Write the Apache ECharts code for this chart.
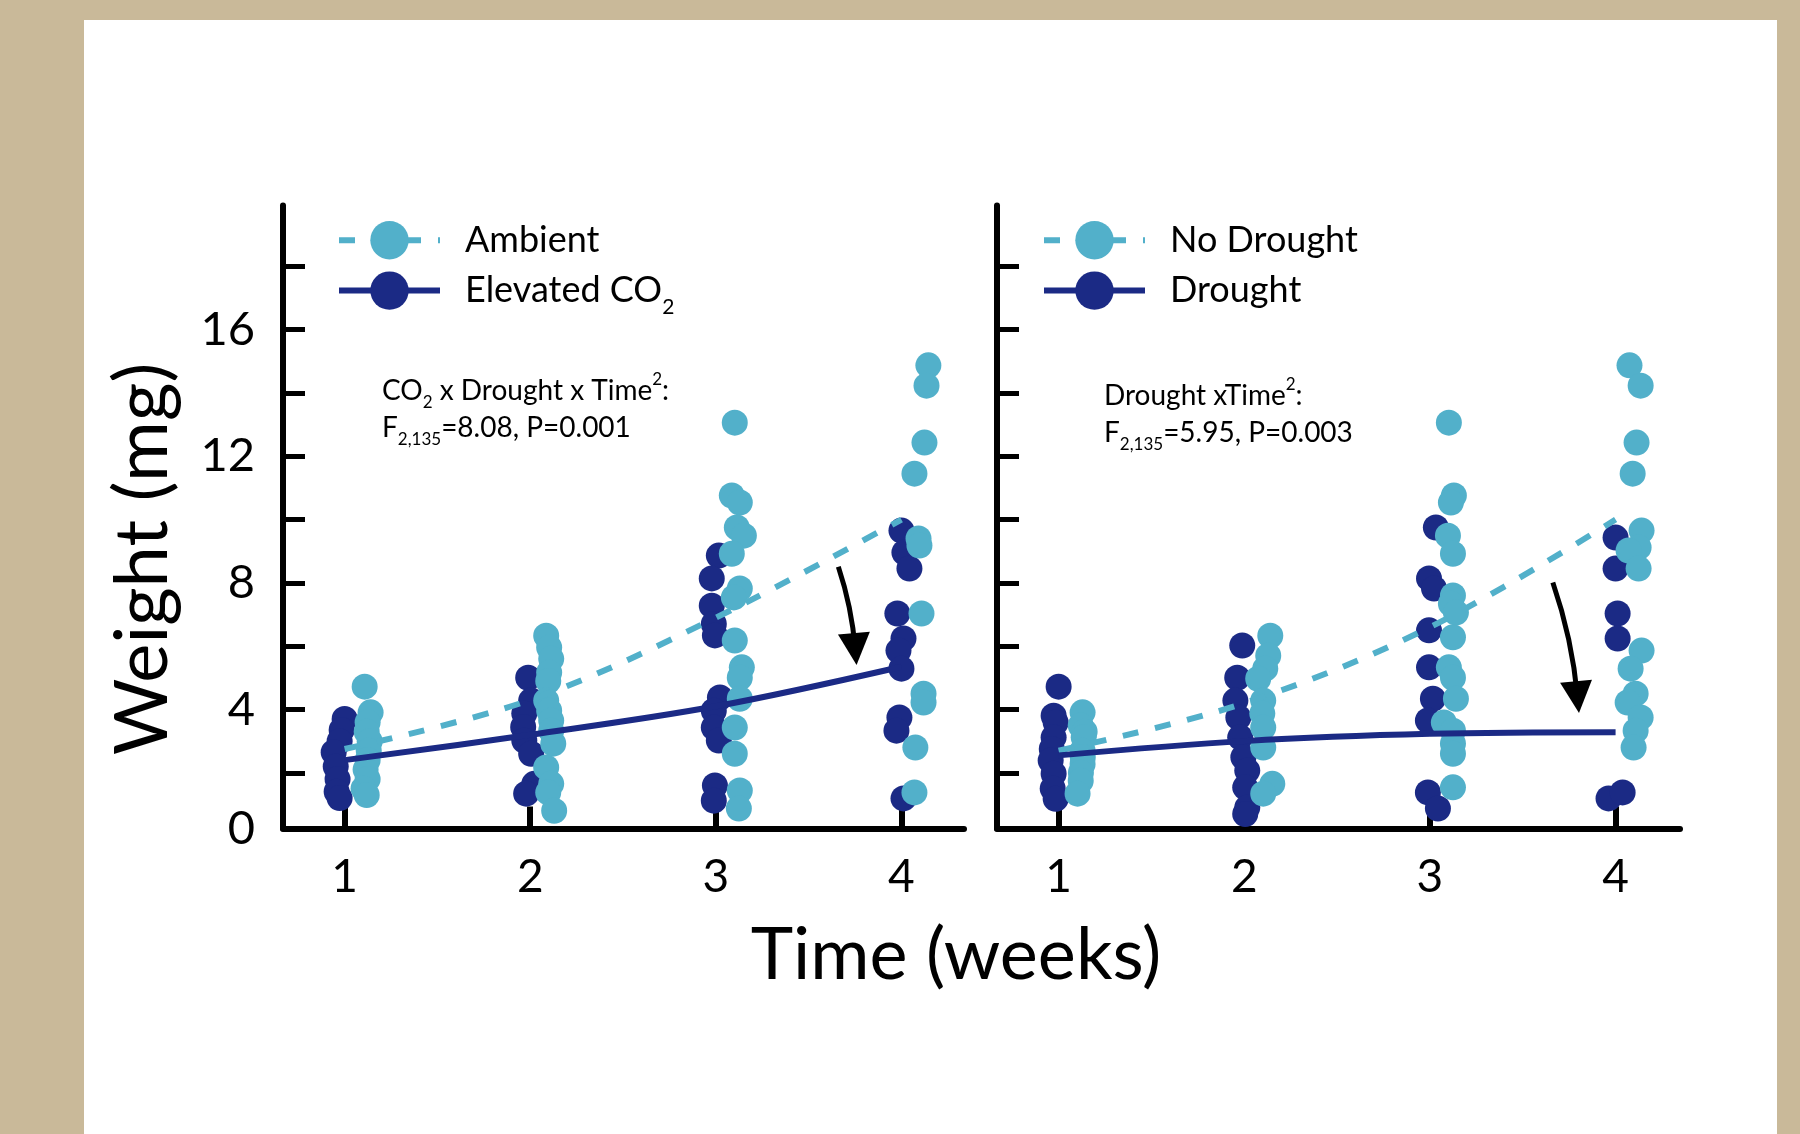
<!DOCTYPE html>
<html>
<head>
<meta charset="utf-8">
<title>Weight (mg) over time</title>
<script src="https://cdn.jsdelivr.net/npm/echarts@6/dist/echarts.min.js"></script>
<style>
  html, body { margin: 0; padding: 0; background: #c9b999; }
  #main { width: 1800px; height: 1134px; }
</style>
</head>
<body>
<div id="main"></div>
<script>
// ---- data (x = week with the jitter, y = weight in mg) ----
var weekTicks = [1, 2, 3, 4];
var weightTicks = [2, 4, 6, 8, 10, 12, 14, 16, 18];
var weightLabels = [0.24, 4, 8, 12, 16];

// left panel: CO2 treatment
var ambient = [
  [1.108, 4.72], [1.14, 3.91], [1.124, 3.6], [1.119, 3.3], [1.135, 3.0], [1.13, 2.7], [1.124, 2.4],
  [1.113, 2.1], [1.124, 1.8], [1.102, 1.5], [1.119, 1.3],
  [2.086, 6.33], [2.102, 5.96], [2.113, 5.6], [2.102, 5.17], [2.097, 4.9], [2.086, 4.28], [2.102, 3.96],
  [2.113, 3.65], [2.113, 3.33], [2.124, 2.92], [2.086, 2.17], [2.113, 1.65], [2.097, 1.38], [2.129, 0.8],
  [3.102, 13.06], [3.086, 10.76], [3.129, 10.54], [3.113, 9.75], [3.151, 9.49], [3.086, 8.92], [3.129, 7.82],
  [3.097, 7.54], [3.102, 6.18], [3.14, 5.33], [3.129, 5.0], [3.129, 4.34], [3.102, 3.43], [3.102, 2.6],
  [3.129, 1.44], [3.124, 0.87],
  [4.145, 14.87], [4.135, 14.23], [4.124, 12.43], [4.07, 11.45], [4.092, 9.4], [4.097, 9.18], [4.108, 7.03],
  [4.119, 4.5], [4.119, 4.22], [4.075, 2.8], [4.07, 1.38]
];
var elevated = [
  [1.0, 3.7], [0.984, 3.35], [0.973, 3.0], [0.941, 2.65], [0.952, 2.2], [0.962, 1.8], [0.957, 1.4], [0.973, 1.2],
  [1.989, 5.0], [2.005, 4.28], [1.968, 3.87], [1.962, 3.45], [1.968, 3.02], [2.005, 2.6], [2.022, 1.65], [1.978, 1.34],
  [3.016, 8.86], [2.978, 8.14], [2.978, 7.28], [2.989, 6.7], [2.995, 6.34], [3.022, 4.38], [2.989, 3.96],
  [2.989, 3.43], [3.016, 3.02], [2.995, 1.6], [2.989, 1.12],
  [4.0, 9.65], [4.016, 8.96], [4.043, 8.45], [3.978, 7.03], [4.011, 6.24], [3.984, 5.86], [4.0, 5.29],
  [3.989, 3.75], [3.973, 3.33], [4.011, 1.19]
];
var ambientFit = [[1, 2.75], [2, 4.3], [3, 6.9], [4, 10.0]];
var elevatedFit = [[1, 2.4], [2, 3.2], [3, 4.1], [4, 5.35]];

// right panel: drought treatment
var noDrought = [
  [1.129, 3.91], [1.119, 3.49], [1.14, 3.3], [1.135, 3.12], [1.129, 2.7], [1.13, 2.5], [1.129, 2.28],
  [1.12, 2.0], [1.119, 1.75], [1.102, 1.34],
  [2.14, 6.33], [2.129, 5.7], [2.113, 5.29], [2.075, 4.97], [2.102, 4.28], [2.097, 3.87], [2.102, 3.43],
  [2.102, 2.8], [2.151, 1.65], [2.102, 1.34],
  [3.102, 13.06], [3.129, 10.76], [3.113, 10.54], [3.097, 9.49], [3.124, 8.92], [3.124, 7.6], [3.113, 7.34],
  [3.14, 7.06], [3.124, 6.28], [3.102, 5.33], [3.124, 5.0], [3.14, 4.34], [3.075, 3.59], [3.124, 3.33],
  [3.124, 2.92], [3.124, 2.6], [3.124, 1.54],
  [4.075, 14.87], [4.135, 14.23], [4.113, 12.43], [4.092, 11.45], [4.14, 9.65], [4.124, 9.12], [4.07, 9.02],
  [4.124, 8.45], [4.14, 5.86], [4.081, 5.29], [4.108, 4.5], [4.065, 4.22], [4.135, 3.75], [4.108, 3.33], [4.097, 2.8]
];
var drought = [
  [1.0, 4.72], [0.973, 3.8], [0.984, 3.59], [0.973, 3.12], [0.963, 2.75], [0.957, 2.39], [0.973, 1.97],
  [0.968, 1.5], [0.984, 1.18],
  [1.989, 6.02], [1.962, 5.0], [1.952, 4.28], [1.968, 3.75], [1.978, 3.12], [1.995, 2.49], [2.016, 2.07],
  [2.005, 1.54], [2.016, 0.9], [2.005, 0.7],
  [3.032, 9.75], [2.995, 8.14], [3.022, 7.82], [2.995, 6.5], [2.995, 5.33], [3.016, 4.34], [2.989, 3.65],
  [2.989, 1.38], [3.043, 0.87],
  [4.0, 9.43], [4.0, 8.45], [4.011, 7.03], [4.011, 6.24], [3.962, 1.19], [4.038, 1.38]
];
var noDroughtFit = [[1, 2.7], [2, 4.2], [3, 6.6], [4, 10.0]];
var droughtFit = [[1, 2.55], [2, 3.0], [3, 3.23], [4, 3.28]];

// annotation arrows (data coords, start -> arrow head centre)
var arrowLeft = [[3.66, 8.51], [3.751, 5.91]];
var arrowRight = [[3.662, 8.01], [3.795, 4.39]];

var LIGHT = '#52b0ca';
var DARK = '#1b2a85';
var FONT = 'Lato';

var chart = echarts.init(document.getElementById('main'));

function xAxisFor(idx) {
  return {
    type: 'value', gridIndex: idx, min: 0.668, max: idx ? 4.347 : 4.337,
    axisLine: { onZero: false, lineStyle: { color: '#000', width: 6, cap: 'round' } },
    axisTick: { inside: true, length: 22, customValues: weekTicks, lineStyle: { color: '#000', width: 6 } },
    axisLabel: { margin: 26, customValues: weekTicks, color: '#000', fontSize: 46, fontFamily: FONT },
    splitLine: { show: false }
  };
}
function yAxisFor(idx) {
  return {
    type: 'value', gridIndex: idx, min: 0.24, max: 19.92,
    axisLine: { onZero: false, lineStyle: { color: '#000', width: 6, cap: 'round' } },
    axisTick: { inside: true, length: 22, customValues: weightTicks, lineStyle: { color: '#000', width: 5 } },
    axisLabel: {
      show: !idx, margin: 28, customValues: weightLabels, color: '#000', fontSize: 47, fontFamily: FONT,
      formatter: function (v) { return String(Math.round(v)); }
    },
    splitLine: { show: false }
  };
}
function fitSeries(name, data, idx, color, dashed) {
  return {
    name: name, type: 'line', xAxisIndex: idx, yAxisIndex: idx, data: data,
    smooth: 0.35, symbol: 'circle', showSymbol: false, z: 4, silent: true,
    itemStyle: { color: color },
    lineStyle: { color: color, width: 6, type: dashed ? [16, 17] : 'solid' }
  };
}
function dotSeries(name, data, idx, color, z) {
  return {
    name: name, type: 'scatter', xAxisIndex: idx, yAxisIndex: idx, data: data,
    symbolSize: 26, z: z, itemStyle: { color: color, opacity: 1 }
  };
}
function arrowSeries(coords, idx) {
  return {
    type: 'lines', coordinateSystem: 'cartesian2d', xAxisIndex: idx, yAxisIndex: idx,
    symbol: ['none', 'triangle'], symbolSize: [0, 32], silent: true, z: 5,
    lineStyle: { color: '#000', width: 5, opacity: 1, curveness: 0.06 },
    data: [{ coords: coords }]
  };
}
function legendFor(left, names) {
  return {
    orient: 'vertical', left: left, top: 216, itemWidth: 101, itemHeight: 48, itemGap: 12,
    data: names, selectedMode: false,
    lineStyle: { width: 6 },
    formatter: function (n) {
      return n === 'Elevated CO2' ? '{n|Elevated CO}{s|2}' : '{n|' + n + '}';
    },
    textStyle: {
      color: '#000', fontSize: 36, fontFamily: FONT,
      rich: {
        n: { fontSize: 36, fontFamily: FONT, color: '#000', padding: [0, 0, 0, 20] },
        s: { fontSize: 21, fontFamily: FONT, color: '#000', verticalAlign: 'bottom', lineHeight: 54 }
      }
    }
  };
}
var noteRich = {
  a: { fontSize: 28, fontFamily: FONT, color: '#000' },
  s: { fontSize: 17, fontFamily: FONT, color: '#000', verticalAlign: 'bottom', lineHeight: 40 },
  p: { fontSize: 17, fontFamily: FONT, color: '#000', verticalAlign: 'top', lineHeight: 40 }
};
function note(x, y, text) {
  return {
    type: 'text', x: x, y: y, silent: true, z: 10,
    style: { text: text, rich: noteRich, align: 'left', verticalAlign: 'middle' }
  };
}
function bigText(text, x, y, rotation, size) {
  return {
    type: 'text', x: x, y: y, rotation: rotation, silent: true,
    style: { text: text, fontSize: size, fontFamily: FONT, fill: '#000', align: 'center', verticalAlign: 'middle' }
  };
}

chart.setOption({
  backgroundColor: '#c9b999',
  animation: false,
  grid: [
    { left: 283, top: 205.5, width: 681, height: 623, outerBoundsMode: 'none' },
    { left: 997, top: 205.5, width: 683, height: 623, outerBoundsMode: 'none' }
  ],
  xAxis: [xAxisFor(0), xAxisFor(1)],
  yAxis: [yAxisFor(0), yAxisFor(1)],
  legend: [
    legendFor(331, ['Ambient', 'Elevated CO2']),
    legendFor(1036, ['No Drought', 'Drought'])
  ],
  graphic: [
    { type: 'rect', silent: true, z: -1, shape: { x: 84, y: 20, width: 1693, height: 1114 }, style: { fill: '#fff' } },
    note(382, 391, '{a|CO}{s|2}{a| x Drought x Time}{p|2}{a|:}'),
    note(382, 428, '{a|F}{s|2,135}{a|=8.08, P=0.001}'),
    note(1104, 396, '{a|Drought xTime}{p|2}{a|:}'),
    note(1104, 433, '{a|F}{s|2,135}{a|=5.95, P=0.003}'),
    bigText('Weight (mg)', 143, 559, Math.PI / 2, 74),
    bigText('Time (weeks)', 956, 956, 0, 72)
  ],
  series: [
    fitSeries('Ambient', ambientFit, 0, LIGHT, true),
    fitSeries('Elevated CO2', elevatedFit, 0, DARK, false),
    fitSeries('No Drought', noDroughtFit, 1, LIGHT, true),
    fitSeries('Drought', droughtFit, 1, DARK, false),
    dotSeries('Elevated CO2', elevated, 0, DARK, 2),
    dotSeries('Ambient', ambient, 0, LIGHT, 3),
    dotSeries('Drought', drought, 1, DARK, 2),
    dotSeries('No Drought', noDrought, 1, LIGHT, 3),
    arrowSeries(arrowLeft, 0),
    arrowSeries(arrowRight, 1)
  ]
});
</script>
</body>
</html>
